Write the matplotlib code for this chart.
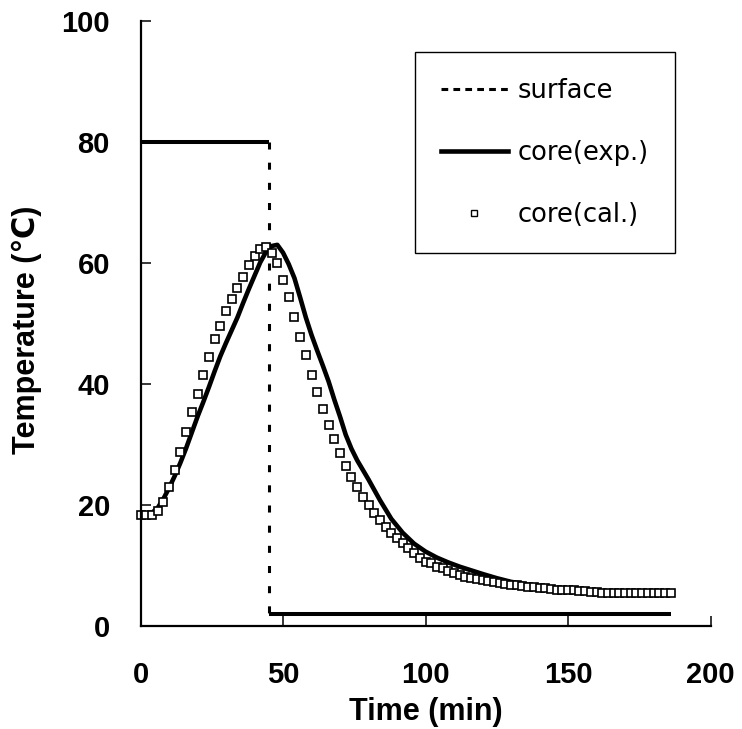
import matplotlib
matplotlib.use("Agg")
import matplotlib.pyplot as plt
import numpy as np
from matplotlib.lines import Line2D

# surface temperature: step from 80 C down to 2 C at 45 min
surface_t = [0, 45, 45, 186]
surface_T = [80, 80, 2, 2]

# core temperature, measured
exp_t = [0, 2, 4, 6, 8, 10, 12, 14, 16, 18, 20, 22, 24, 26, 28, 30, 32, 34, 36, 38,
         40, 42, 44, 46, 48, 50, 52, 54, 56, 58, 60, 62, 64, 66, 68, 70, 72, 74, 76, 78,
         80, 84, 88, 92, 96, 100, 104, 108, 112, 116, 120, 125, 130, 140, 150, 160, 170, 186]
exp_T = [18.5, 18.5, 18.7, 19.5, 21.0, 22.8, 24.8, 27.0, 29.4, 32.0, 34.6, 37.0, 39.5, 42.1,
         44.6, 46.8, 48.9, 51.0, 53.4, 55.7, 57.9, 60.1, 61.8, 62.8, 63.0, 61.7, 59.8, 57.5,
         54.3, 51.0, 48.1, 45.5, 43.0, 40.4, 37.4, 34.6, 31.6, 29.3, 27.4, 25.8, 24.2, 20.8,
         17.7, 15.4, 13.6, 12.3, 11.3, 10.5, 9.8, 9.2, 8.6, 7.9, 7.3, 6.5, 6.0, 5.6, 5.5, 5.5]

# core temperature, calculated (every 2 min)
cal_t = np.arange(0, 188, 2)
cal_T = [18.4, 18.4, 18.4, 19.0, 20.5, 23.0, 25.8, 28.8, 32.1, 35.4, 38.4, 41.5, 44.5, 47.5,
         49.6, 52.0, 54.1, 55.9, 57.7, 59.7, 61.2, 62.3, 62.7, 61.7, 60.0, 57.2, 54.4, 51.1,
         47.8, 44.8, 41.5, 38.7, 35.8, 33.2, 30.9, 28.6, 26.4, 24.6, 23.0, 21.3, 20.0, 18.7,
         17.6, 16.4, 15.4, 14.6, 13.7, 12.9, 12.1, 11.3, 10.6, 10.4, 9.8, 9.6, 9.1, 8.8,
         8.5, 8.1, 8.0, 7.8, 7.6, 7.4, 7.3, 7.1, 7.0, 6.8, 6.7, 6.6, 6.5, 6.4, 6.3, 6.2,
         6.1, 6.0, 6.0, 5.9, 5.9, 5.8, 5.8, 5.7, 5.6, 5.5, 5.5, 5.5, 5.5, 5.5, 5.5, 5.5,
         5.5, 5.5, 5.5, 5.5, 5.5, 5.5]

xticks = [0, 50, 100, 150, 200]
yticks = [0, 20, 40, 60, 80, 100]

plt.rcParams["font.family"] = ["Liberation Sans", "DejaVu Sans"]

fig = plt.figure(figsize=(7.42, 7.29), dpi=100)
ax = fig.add_axes([0.1894, 0.1413, 0.7682, 0.8299])

# flat parts of the surface curve look solid, the jump is dashed
for i in range(len(surface_t) - 1):
    seg_t = surface_t[i:i + 2]
    seg_T = surface_T[i:i + 2]
    if seg_t[0] == seg_t[1]:
        ax.plot(seg_t, seg_T, color="k", lw=2.2, dashes=(2.3, 4.3))
    else:
        ax.plot(seg_t, seg_T, color="k", lw=2.9, solid_capstyle="butt")

ax.plot(exp_t, exp_T, color="k", lw=3.3, solid_joinstyle="round")
ax.plot(cal_t, cal_T, ls="none", marker="s", ms=5.6, mfc="white", mec="k", mew=1.2,
        clip_on=False)

ax.set_xlim(0, 200)
ax.set_ylim(0, 100)
ax.set_xticks(xticks)
ax.set_yticks(yticks)
for s in ("top", "right"):
    ax.spines[s].set_visible(False)
for s in ("left", "bottom"):
    ax.spines[s].set_linewidth(1.6)
ax.tick_params(direction="in", length=7, width=1.1, labelsize=21)
ax.tick_params(axis="x", pad=25)
ax.tick_params(axis="y", pad=22)
for lab in ax.get_xticklabels() + ax.get_yticklabels():
    lab.set_fontweight("bold")

ax.set_xlabel("Time (min)", fontsize=22, fontweight="bold")
ax.set_ylabel("Temperature (℃)", fontsize=22, fontweight="bold")
ax.xaxis.set_label_coords(0.5, -0.117)
ax.yaxis.set_label_coords(-0.173, 0.49)

handles = [
    Line2D([], [], color="k", lw=2.2, dashes=(2.2, 1.7)),
    Line2D([], [], color="k", lw=3.3),
    Line2D([], [], ls="none", marker="s", ms=4, mfc="white", mec="k", mew=1.0),
]
labels = ["surface", "core(exp.)", "core(cal.)"]
leg = ax.legend(handles, labels, loc="upper left", bbox_to_anchor=(0.4816, 0.9488),
                borderaxespad=0, prop={"family": "DejaVu Sans", "size": 18.5},
                handlelength=2.6, handletextpad=0.4, labelspacing=1.4,
                borderpad=1.0, fancybox=False, framealpha=1, edgecolor="k",
                numpoints=1)
leg.get_frame().set_linewidth(1.0)

fig.savefig("out.png", dpi=100)
